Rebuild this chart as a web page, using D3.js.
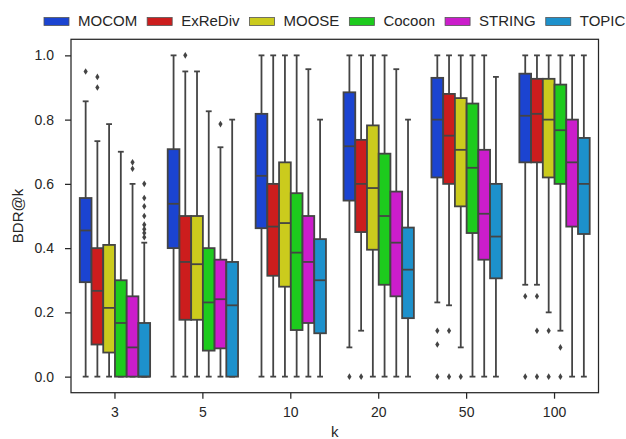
<!DOCTYPE html>
<html>
<head>
<meta charset="utf-8">
<script src="https://cdn.jsdelivr.net/npm/d3@7"></script>
<style>
  html, body { margin: 0; padding: 0; background: #fff; }
  svg { display: block; font-family: "Liberation Sans", Arial, sans-serif; }
</style>
</head>
<body>
<svg id="chart" width="626" height="439"></svg>
<script>
// Categories
const ks = ["3", "5", "10", "20", "50", "100"];
const methods = ["MOCOM", "ExReDiv", "MOOSE", "Cocoon", "STRING", "TOPIC"];
const colors = ["#1b44d1", "#cc1d1d", "#cbcb1d", "#1dcb1d", "#cb1dcb", "#1d91cc"];
const yTicks = [0, 0.2, 0.4, 0.6, 0.8, 1.0];

// Box statistics, one row per k, one column per method
const whiskerLow = [
  [0, 0, 0, 0, 0, 0],
  [0, 0, 0, 0, 0, 0],
  [0, 0, 0, 0, 0, 0],
  [0.091, 0.143, 0, 0, 0, 0],
  [0.231, 0.222, 0.091, 0, 0, 0],
  [0.286, 0.286, 0.20, 0.143, 0, 0]
];
const q1 = [
  [0.294, 0.10, 0.075, 0, 0, 0],
  [0.40, 0.177, 0.177, 0.081, 0.088, 0],
  [0.462, 0.314, 0.28, 0.145, 0.167, 0.135],
  [0.548, 0.45, 0.395, 0.286, 0.25, 0.182],
  [0.62, 0.60, 0.53, 0.447, 0.364, 0.306],
  [0.667, 0.667, 0.62, 0.60, 0.467, 0.444]
];
const median = [
  [0.455, 0.267, 0.214, 0.167, 0.091, 0],
  [0.538, 0.357, 0.35, 0.231, 0.241, 0.222],
  [0.625, 0.467, 0.478, 0.386, 0.357, 0.30],
  [0.717, 0.60, 0.587, 0.50, 0.417, 0.333],
  [0.80, 0.75, 0.706, 0.65, 0.507, 0.436],
  [0.812, 0.818, 0.80, 0.767, 0.667, 0.60]
];
const q3 = [
  [0.556, 0.40, 0.41, 0.30, 0.25, 0.167],
  [0.708, 0.50, 0.50, 0.40, 0.364, 0.357],
  [0.818, 0.60, 0.667, 0.571, 0.50, 0.428],
  [0.885, 0.737, 0.782, 0.694, 0.576, 0.464],
  [0.93, 0.88, 0.867, 0.85, 0.706, 0.60],
  [0.943, 0.927, 0.927, 0.909, 0.80, 0.743]
];
const whiskerHigh = [
  [0.857, 0.733, 0.786, 0.70, 0.60, 0.417],
  [1.0, 0.95, 0.95, 0.826, 0.714, 0.80],
  [1.0, 1.0, 1.0, 1.0, 0.957, 0.80],
  [1.0, 1.0, 1.0, 1.0, 0.957, 0.80],
  [1.0, 1.0, 1.0, 1.0, 1.0, 0.933],
  [1.0, 1.0, 1.0, 1.0, 1.0, 1.0]
];
// Outliers as [k index, method index, value]
const outliers = [
  [0, 0, 0.95], [0, 1, 0.933], [0, 1, 0.90], [0, 4, 0.667], [0, 4, 0.647],
  [0, 5, 0.60], [0, 5, 0.556], [0, 5, 0.53], [0, 5, 0.50], [0, 5, 0.473],
  [0, 5, 0.459], [0, 5, 0.447], [0, 5, 0.434],
  [1, 1, 1.0], [1, 4, 0.786],
  [3, 0, 0], [3, 1, 0],
  [4, 0, 0.143], [4, 0, 0.10], [4, 0, 0], [4, 1, 0.143], [4, 1, 0], [4, 2, 0],
  [5, 0, 0.25], [5, 0, 0], [5, 1, 0.25], [5, 1, 0.143], [5, 1, 0],
  [5, 2, 0.143], [5, 2, 0], [5, 3, 0.091], [5, 3, 0]
];

const svg = d3.select("#chart");
const plot = { left: 71, right: 598.5, top: 39.3, bottom: 392.7 };
const axisColor = "#262626";
const boxLine = "#444444";

const x = d3.scaleBand().domain(ks).range([plot.left, plot.right]).paddingInner(0).paddingOuter(0);
const inner = d3.scaleBand().domain(methods).range([x.bandwidth() * 0.1, x.bandwidth() * 0.9]);
const y = d3.scaleLinear().domain([-0.05, 1.05]).range([plot.bottom, plot.top]);

// Axes
const xAxis = svg.append("g")
  .attr("transform", `translate(0,${plot.bottom})`)
  .call(d3.axisBottom(x).tickSize(6).tickPadding(8));
const yAxis = svg.append("g")
  .attr("transform", `translate(${plot.left},0)`)
  .call(d3.axisLeft(y).tickValues(yTicks).tickFormat(d3.format(".1f")).tickSize(6).tickPadding(11));
[xAxis, yAxis].forEach(g => {
  g.select(".domain").remove();
  g.selectAll(".tick line").attr("stroke", axisColor).attr("stroke-width", 1.25);
  g.selectAll(".tick text").attr("fill", axisColor).style("font-size", "14px")
    .style("font-family", "'Liberation Sans', Arial, sans-serif");
});

// Boxes
const bw = inner.bandwidth();
const boxes = [];
ks.forEach((k, i) => methods.forEach((m, j) => boxes.push({ i, j, k, m })));

const g = svg.append("g");
const box = g.selectAll("g.box").data(boxes).join("g").attr("class", "box");
const cx = d => x(d.k) + inner(d.m) + bw / 2;

// whiskers
box.append("line")
  .attr("x1", cx).attr("x2", cx)
  .attr("y1", d => y(q3[d.i][d.j])).attr("y2", d => y(whiskerHigh[d.i][d.j]))
  .attr("stroke", boxLine).attr("stroke-width", 1.8);
box.append("line")
  .attr("x1", cx).attr("x2", cx)
  .attr("y1", d => y(q1[d.i][d.j])).attr("y2", d => y(whiskerLow[d.i][d.j]))
  .attr("stroke", boxLine).attr("stroke-width", 1.8);
// caps
[whiskerHigh, whiskerLow].forEach(arr => {
  box.append("line")
    .attr("x1", d => cx(d) - bw / 4).attr("x2", d => cx(d) + bw / 4)
    .attr("y1", d => y(arr[d.i][d.j])).attr("y2", d => y(arr[d.i][d.j]))
    .attr("stroke", boxLine).attr("stroke-width", 1.8);
});
// box body
box.append("rect")
  .attr("x", d => x(d.k) + inner(d.m))
  .attr("width", bw)
  .attr("y", d => y(q3[d.i][d.j]))
  .attr("height", d => y(q1[d.i][d.j]) - y(q3[d.i][d.j]))
  .attr("fill", d => colors[d.j])
  .attr("stroke", boxLine).attr("stroke-width", 1.8);
// median
box.append("line")
  .attr("x1", d => x(d.k) + inner(d.m)).attr("x2", d => x(d.k) + inner(d.m) + bw)
  .attr("y1", d => y(median[d.i][d.j])).attr("y2", d => y(median[d.i][d.j]))
  .attr("stroke", boxLine).attr("stroke-width", 1.8);

// outlier diamonds
g.selectAll("path.flier").data(outliers).join("path")
  .attr("class", "flier")
  .attr("transform", d => `translate(${x(ks[d[0]]) + inner(methods[d[1]]) + bw / 2},${y(d[2])})`)
  .attr("d", "M0,-3.3L2.1,0L0,3.3L-2.1,0Z")
  .attr("fill", boxLine);

// Frame
svg.append("rect")
  .attr("x", plot.left).attr("y", plot.top)
  .attr("width", plot.right - plot.left).attr("height", plot.bottom - plot.top)
  .attr("fill", "none").attr("stroke", axisColor).attr("stroke-width", 1.25);

// Axis labels
svg.append("text")
  .attr("x", (plot.left + plot.right) / 2).attr("y", 437)
  .attr("text-anchor", "middle").attr("fill", axisColor)
  .style("font-size", "15px").text("k");
svg.append("text")
  .attr("transform", `translate(23,${(plot.top + plot.bottom) / 2}) rotate(-90)`)
  .attr("text-anchor", "middle").attr("fill", axisColor)
  .style("font-size", "15px").text("BDR@k");

// Legend
const legend = svg.append("g");
let lx = 44;
methods.forEach((m, j) => {
  legend.append("rect")
    .attr("x", lx).attr("y", 17.5).attr("width", 25).attr("height", 8)
    .attr("fill", colors[j]).attr("stroke", "#555").attr("stroke-width", 0.8);
  const t = legend.append("text")
    .attr("x", lx + 34).attr("y", 26.3)
    .attr("fill", axisColor).style("font-size", "15px").text(m);
  lx += 34 + t.node().getComputedTextLength() + 10;
});
</script>
</body>
</html>
